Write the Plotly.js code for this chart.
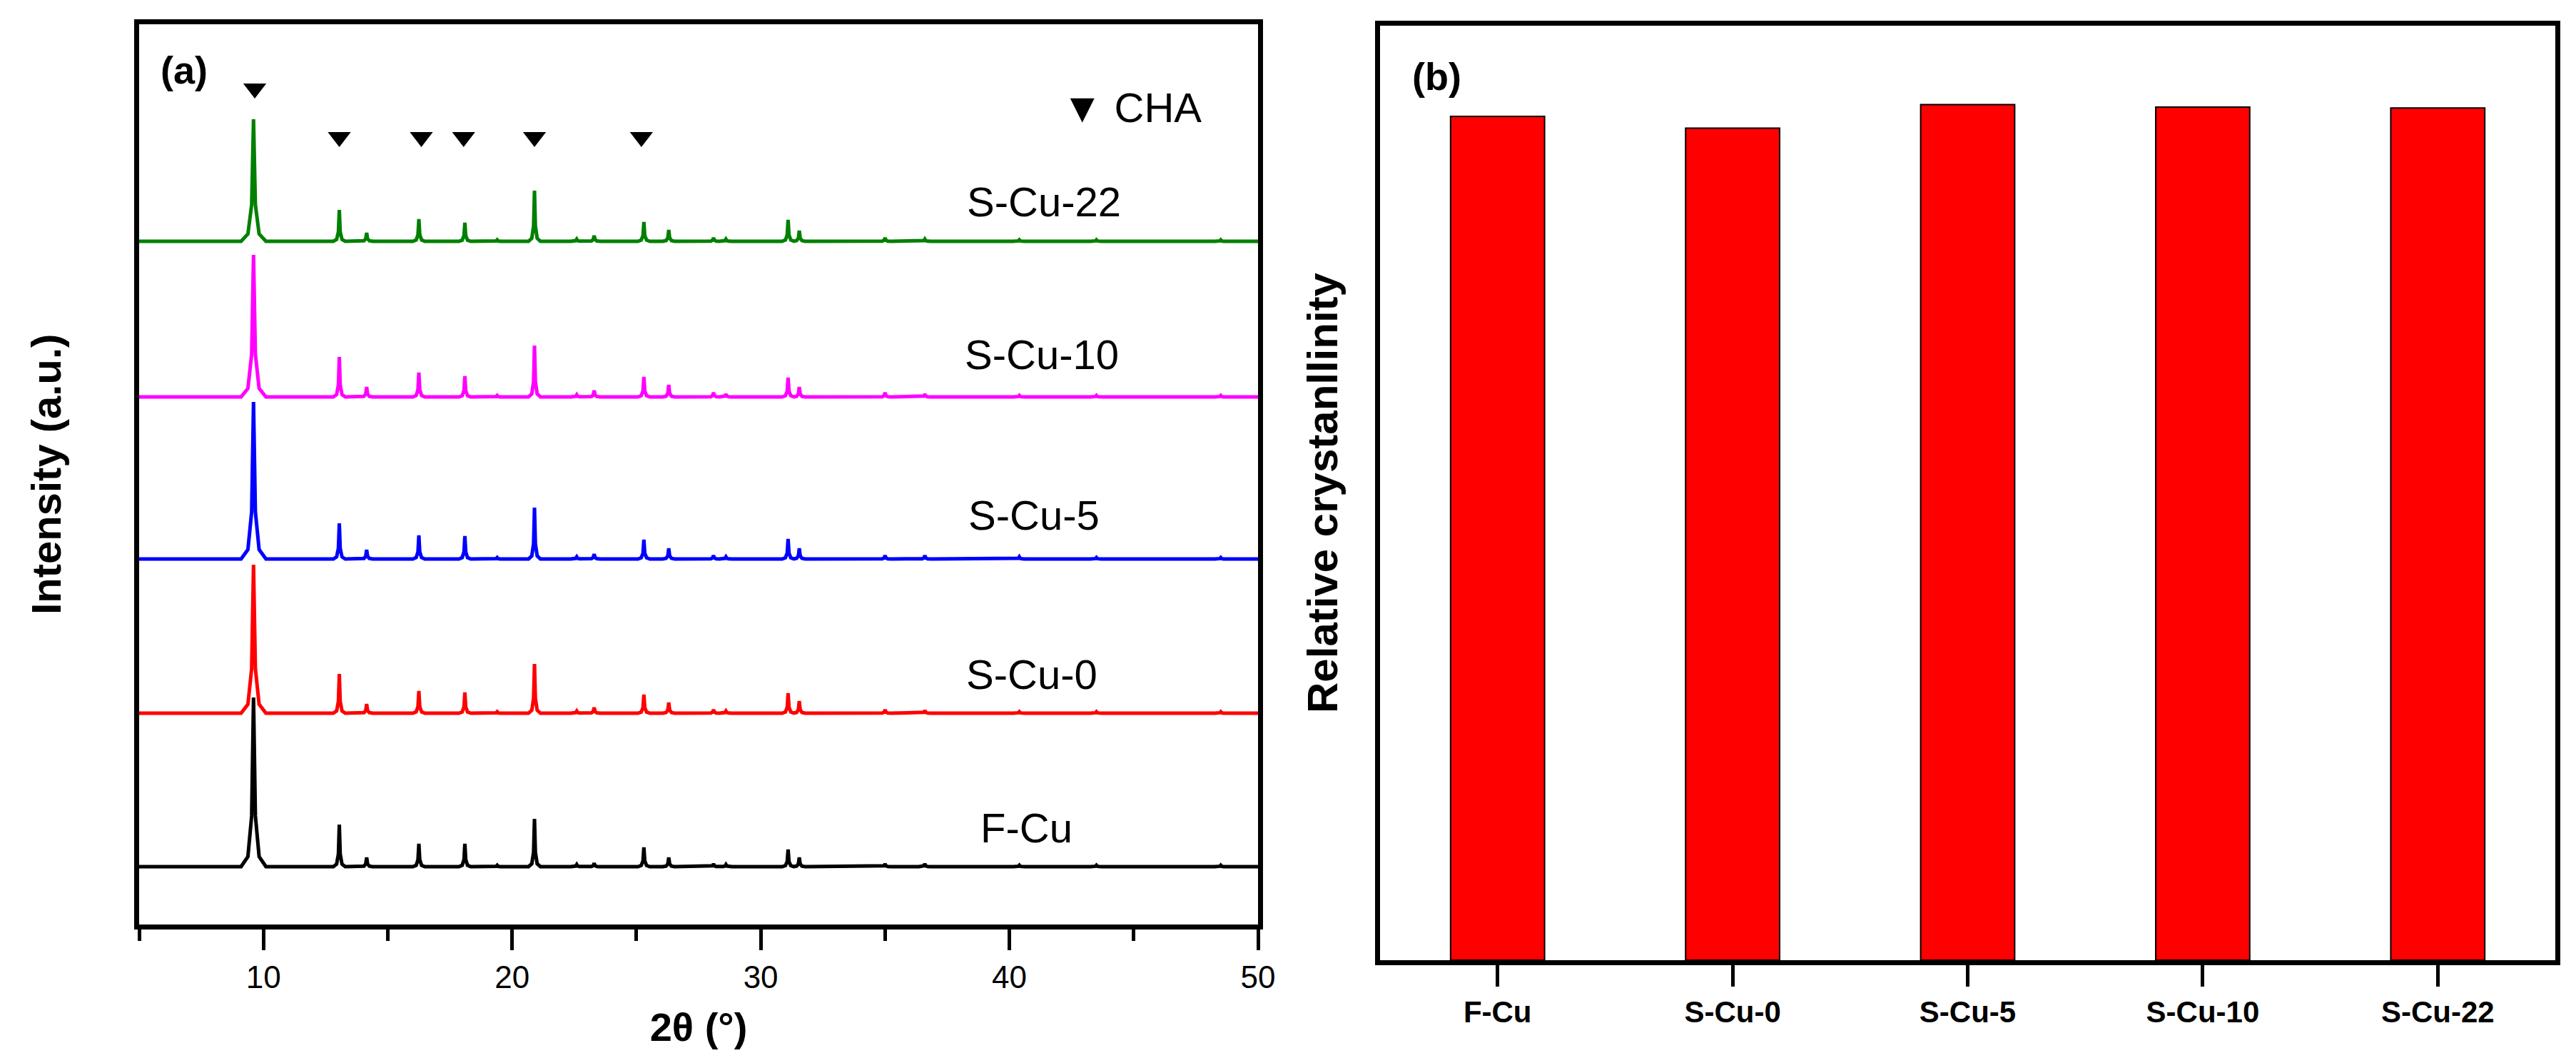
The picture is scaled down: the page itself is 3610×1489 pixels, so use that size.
<!DOCTYPE html>
<html>
<head>
<meta charset="utf-8">
<script src="https://cdn.plot.ly/plotly-3.0.1.min.js"></script>
<style>
html,body{margin:0;padding:0;background:#fff;}
#chart{width:3610px;height:1489px;}
</style>
</head>
<body>
<div id="chart"></div>
<script>
// ---------------- DATA ----------------
const samples = ['F-Cu', 'S-Cu-0', 'S-Cu-5', 'S-Cu-10', 'S-Cu-22'];
// vertical stacking offsets of each XRD pattern (a.u.)
const baselineOffsets = [81, 296, 512, 739, 957];
// 2θ positions of the diffraction peaks (°)
const peakPositions = [9.6, 13.05, 14.15, 16.25, 18.1, 19.4, 20.9, 22.6, 23.3, 25.3, 26.3, 28.1, 28.6, 31.1, 31.55, 35.0, 36.6, 40.4, 43.5, 48.5];
// peak heights above baseline (a.u.)
const heightsFCu   = [237, 59, 13, 32, 32, 2, 67, 3, 5, 27, 13, 4, 3, 24, 13, 4, 4, 2, 2, 2];
const heightsSCu0  = [208, 55, 13, 31, 29, 2, 69, 3, 8, 26, 15, 5, 3, 28, 17, 5, 4, 2, 2, 2];
const heightsSCu5  = [220, 50, 13, 33, 32, 2, 72, 3, 7, 27, 15, 5, 3, 28, 15, 5, 5, 3, 2, 2];
const heightsSCu10 = [199, 56, 14, 34, 29, 2, 72, 3, 9, 28, 17, 6, 4, 27, 14, 6, 4, 2, 2, 2];
const heightsSCu22 = [171, 44, 12, 31, 26, 2, 71, 3, 8, 27, 16, 5, 3, 30, 15, 5, 3, 2, 2, 2];
// CHA reflection markers
const chaPeaks = [9.65, 13.05, 16.35, 18.05, 20.9, 25.2];
const chaMarkY = [1171, 1103, 1103, 1103, 1103, 1103];
// panel (b)
const barCategories = ['F-Cu', 'S-Cu-0', 'S-Cu-5', 'S-Cu-10', 'S-Cu-22'];
const relCrystallinity = [100, 98.6, 101.4, 101.1, 101.0];

// ---------------- STYLE ----------------
const sampleColors = ['#000000', '#ff0000', '#0000ff', '#ff00ff', '#008000'];
const sampleHeights = [heightsFCu, heightsSCu0, heightsSCu5, heightsSCu10, heightsSCu22];
const peakShapeDx = [-1, -0.45, -0.15, 0, 0.15, 0.45, 1];
const peakShapeFy = [0, 0.06, 0.3, 1, 0.3, 0.06, 0];
const labelX = [40.7, 40.9, 41.0, 41.3, 41.4];
const labelDy = [55, 55, 62, 60, 56];
const FONT = 'Arial, "Liberation Sans", sans-serif';

function buildPattern(heights, offset) {
  const xs = [5], ys = [offset];
  peakPositions.forEach(function (p, i) {
    const hw = i === 0 ? 0.5 : 0.24;
    for (let k = 0; k < peakShapeDx.length; k++) {
      xs.push(p + peakShapeDx[k] * hw);
      ys.push(offset + peakShapeFy[k] * heights[i]);
    }
  });
  xs.push(50); ys.push(offset);
  return {xs: xs, ys: ys};
}

const traces = [];
samples.forEach(function (name, i) {
  const pat = buildPattern(sampleHeights[i], baselineOffsets[i]);
  traces.push({
    type: 'scatter', mode: 'lines', name: name,
    x: pat.xs, y: pat.ys, xaxis: 'x', yaxis: 'y',
    line: {color: sampleColors[i], width: 5},
    hoverinfo: 'skip'
  });
});
traces.push({
  type: 'scatter', mode: 'markers', name: 'CHA',
  x: chaPeaks, y: chaMarkY, xaxis: 'x', yaxis: 'y',
  marker: {symbol: 'triangle-down', size: 28, color: '#000'}
});
traces.push({
  type: 'bar', name: 'Relative crystanllinity',
  x: barCategories, y: relCrystallinity, xaxis: 'x2', yaxis: 'y2',
  width: 0.4,
  marker: {color: '#ff0000', line: {color: '#000', width: 2}}
});

const annotations = samples.map(function (name, i) {
  return {
    text: name, x: labelX[i], y: baselineOffsets[i] + labelDy[i],
    xref: 'x', yref: 'y', showarrow: false,
    xanchor: 'center', yanchor: 'middle',
    font: {family: FONT, size: 58, color: '#000'}
  };
});
annotations.push({
  text: '▼ CHA', x: 44.93, y: 1145, xref: 'x', yref: 'y', showarrow: false,
  xanchor: 'center', yanchor: 'middle', font: {family: FONT, size: 58, color: '#000'}
});
annotations.push({
  text: '<b>(a)</b>', x: 258 / 3610, y: 1 - 98 / 1489, xref: 'paper', yref: 'paper',
  showarrow: false, xanchor: 'center', yanchor: 'middle',
  font: {family: FONT, size: 54, color: '#000'}
});
annotations.push({
  text: '<b>(b)</b>', x: 2014 / 3610, y: 1 - 107 / 1489, xref: 'paper', yref: 'paper',
  showarrow: false, xanchor: 'center', yanchor: 'middle',
  font: {family: FONT, size: 54, color: '#000'}
});

const axisCommon = {
  showline: true, linewidth: 7, linecolor: '#000', mirror: true,
  showgrid: false, zeroline: false
};

const layout = {
  width: 3610, height: 1489,
  margin: {l: 0, r: 0, t: 0, b: 0},
  paper_bgcolor: '#ffffff', plot_bgcolor: '#ffffff',
  showlegend: false,
  font: {family: FONT, color: '#000'},
  xaxis: Object.assign({}, axisCommon, {
    domain: [195 / 3610, 1763 / 3610], anchor: 'y',
    range: [5, 50], tick0: 0, dtick: 10,
    ticks: 'outside', ticklen: 29, tickwidth: 5, tickcolor: '#000',
    minor: {tick0: 0, dtick: 5, ticks: 'outside', ticklen: 16, tickwidth: 5, tickcolor: '#000'},
    tickfont: {family: FONT, size: 44, color: '#000'},
    title: {text: '2θ (°)', standoff: 30, font: {family: FONT, size: 56, weight: 'bold', color: '#000'}}
  }),
  yaxis: Object.assign({}, axisCommon, {
    domain: [1 - 1295 / 1489, 1 - 33.5 / 1489], anchor: 'x',
    range: [0, 1261.5], showticklabels: false, ticks: '',
    title: {text: 'Intensity (a.u.)', standoff: 86, font: {family: FONT, size: 58, weight: 'bold', color: '#000'}}
  }),
  xaxis2: Object.assign({}, axisCommon, {
    domain: [1934 / 3610, 3581 / 3610], anchor: 'y2',
    type: 'category', range: [-0.5, 4.5],
    ticks: 'outside', ticklen: 30, tickwidth: 5, tickcolor: '#000',
    tickfont: {family: FONT, size: 42, weight: 'bold', color: '#000'}
  }),
  yaxis2: Object.assign({}, axisCommon, {
    domain: [1 - 1345 / 1489, 1 - 36 / 1489], anchor: 'x2',
    range: [0, 110.75], showticklabels: false, ticks: '',
    title: {text: 'Relative crystanllinity', standoff: 36, font: {family: FONT, size: 60, weight: 'bold', color: '#000'}}
  }),
  annotations: annotations
};

Plotly.newPlot('chart', traces, layout, {displayModeBar: false, staticPlot: true});
</script>
</body>
</html>
